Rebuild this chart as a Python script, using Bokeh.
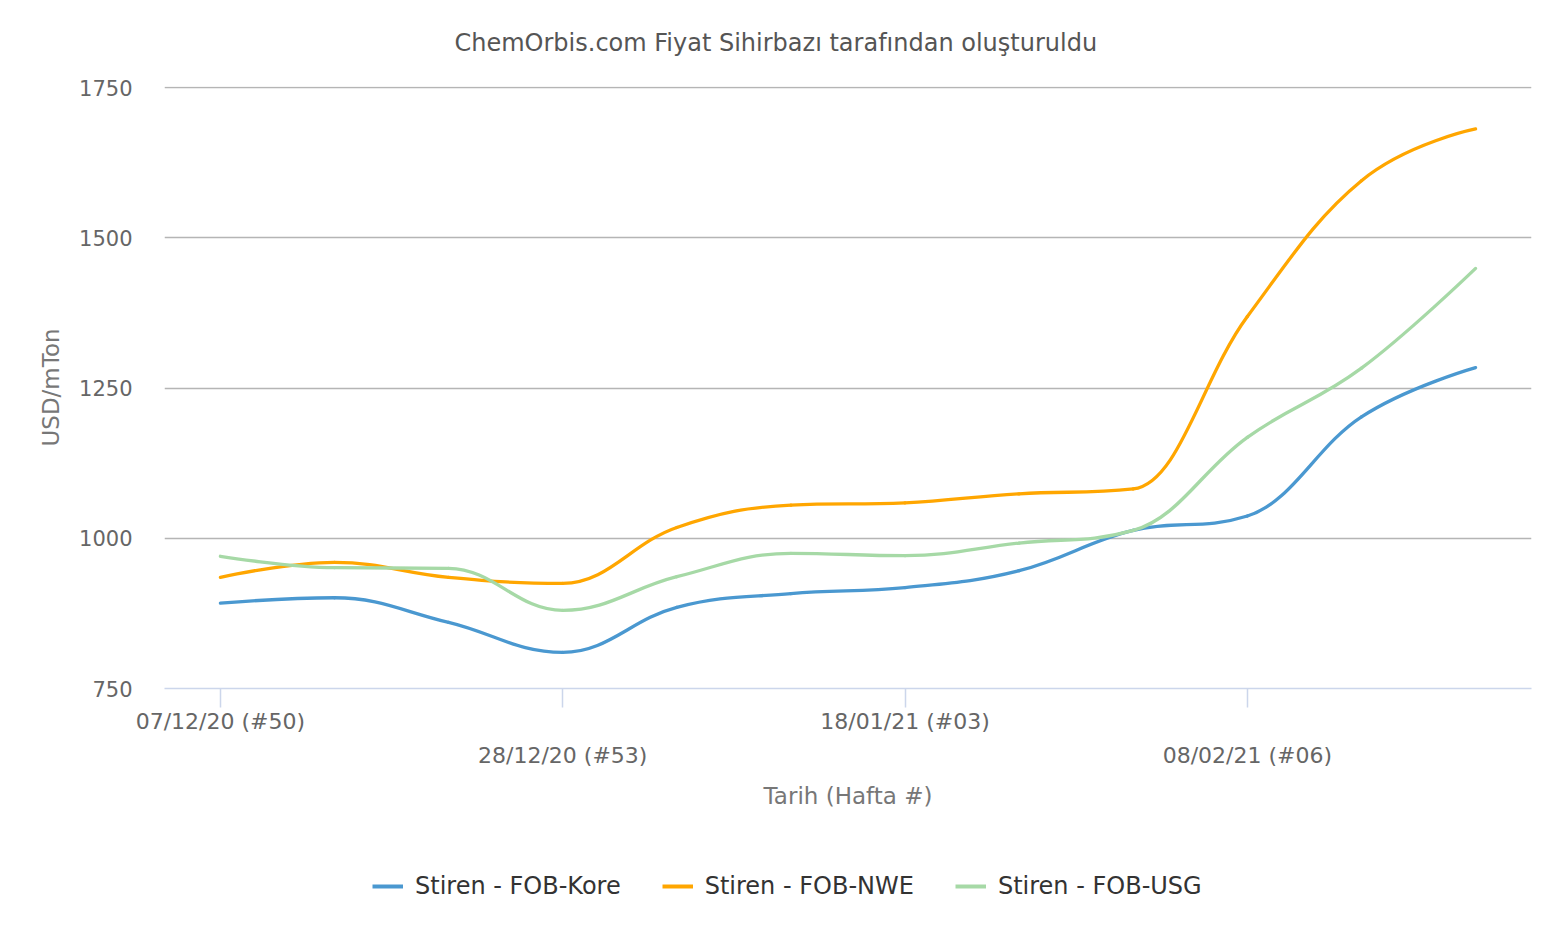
from bokeh.plotting import figure
from bokeh.layouts import column
from bokeh.models import (Range1d, FixedTicker, LinearAxis, Legend, LegendItem,
                          ColumnDataSource)
from bokeh.embed import file_html
from bokeh.resources import INLINE

# ---- data -------------------------------------------------------------
weeks = list(range(12))  # 07/12/20 (#50) ... 22/02/21 (#08), weekly
tick_positions_row1 = [0, 6]
tick_labels_row1 = ["07/12/20 (#50)", "18/01/21 (#03)"]
tick_positions_row2 = [3, 9]
tick_labels_row2 = ["28/12/20 (#53)", "08/02/21 (#06)"]
y_ticks = [750, 1000, 1250, 1500, 1750]

series_names = ["Stiren - FOB-Kore", "Stiren - FOB-NWE", "Stiren - FOB-USG"]
kore = [892, 901, 860, 810, 885, 908, 918, 946, 1013, 1037, 1202, 1284]
nwe = [935, 960, 935, 925, 1018, 1055, 1059, 1074, 1082, 1369, 1595, 1681]
usg = [970, 951, 950, 880, 936, 975, 971, 992, 1013, 1168, 1283, 1449]
colors = ["#4a98d0", "#ffa600", "#a6d9a6"]

FONT = "DejaVu Sans"


def spline_segments(xs, ys, smoothing=1.5):
    """Highcharts-style spline: cubic Bezier control points for each segment."""
    n = len(xs)
    lc = [(xs[i], ys[i]) for i in range(n)]
    rc = [(xs[i], ys[i]) for i in range(n)]
    d = smoothing + 1
    for i in range(1, n - 1):
        px, py = xs[i], ys[i]
        lx, ly = xs[i - 1], ys[i - 1]
        nx, ny = xs[i + 1], ys[i + 1]
        lcx = (smoothing * px + lx) / d
        lcy = (smoothing * py + ly) / d
        rcx = (smoothing * px + nx) / d
        rcy = (smoothing * py + ny) / d
        if rcx != lcx:
            corr = ((rcy - lcy) * (rcx - px)) / (rcx - lcx) + py - rcy
            lcy += corr
            rcy += corr
            if lcy > ly and lcy > py:
                lcy = max(ly, py)
                rcy = 2 * py - lcy
            elif lcy < ly and lcy < py:
                lcy = min(ly, py)
                rcy = 2 * py - lcy
            if rcy > ny and rcy > py:
                rcy = max(ny, py)
                lcy = 2 * py - rcy
            elif rcy < ny and rcy < py:
                rcy = min(ny, py)
                lcy = 2 * py - rcy
        lc[i] = (lcx, lcy)
        rc[i] = (rcx, rcy)
    data = dict(x0=[], y0=[], x1=[], y1=[], cx0=[], cy0=[], cx1=[], cy1=[])
    for i in range(1, n):
        data["x0"].append(xs[i - 1]); data["y0"].append(ys[i - 1])
        data["x1"].append(xs[i]); data["y1"].append(ys[i])
        data["cx0"].append(rc[i - 1][0]); data["cy0"].append(rc[i - 1][1])
        data["cx1"].append(lc[i][0]); data["cy1"].append(lc[i][1])
    return data


p = figure(width=1552, height=840, output_backend="svg", toolbar_location=None,
           x_range=Range1d(-0.49, 11.49), y_range=Range1d(750, 1751.7),
           min_border_left=164, min_border_right=21, min_border_top=86,
           min_border_bottom=152, x_axis_type=None)
p.outline_line_color = None
p.background_fill_color = "white"
p.border_fill_color = "white"

# title
p.title.text = "ChemOrbis.com Fiyat Sihirbazı tarafından oluşturuldu"
p.title.text_font = FONT
p.title.text_font_size = "24px"
p.title.text_font_style = "normal"
p.title.text_color = "#555555"
p.title.align = "left"
p.title.vertical_align = "top"
p.title.offset = 290
p.title.standoff = 56

# y axis
yax = p.yaxis[0]
yax.ticker = FixedTicker(ticks=y_ticks)
yax.axis_line_color = None
yax.major_tick_line_color = None
yax.minor_tick_line_color = None
yax.major_label_text_font = FONT
yax.major_label_text_font_size = "21px"
yax.major_label_text_color = "#666666"
yax.major_label_standoff = 26
yax.axis_label = "USD/mTon"
yax.axis_label_text_font = FONT
yax.axis_label_text_font_size = "23px"
yax.axis_label_text_font_style = "normal"
yax.axis_label_text_color = "#777777"
yax.axis_label_standoff = 12

p.ygrid.ticker = FixedTicker(ticks=y_ticks[1:])
p.ygrid.grid_line_color = "#b5b5b5"
p.ygrid.grid_line_width = 1.5
p.xgrid.visible = False

# x axes (two rows of labels)
all_ticks = sorted(tick_positions_row1 + tick_positions_row2)
overrides1 = {t: "" for t in all_ticks}
overrides1.update(dict(zip(tick_positions_row1, tick_labels_row1)))
ax1 = LinearAxis(ticker=FixedTicker(ticks=all_ticks),
                 major_label_overrides=overrides1)
ax1.axis_line_color = "#ccd6eb"
ax1.axis_line_width = 1.5
ax1.major_tick_line_color = "#ccd6eb"
ax1.major_tick_line_width = 1.5
ax1.major_tick_in = 0
ax1.major_tick_out = 19
ax1.minor_tick_line_color = None
ax1.major_label_text_font = FONT
ax1.major_label_text_font_size = "22px"
ax1.major_label_text_color = "#666666"
ax1.major_label_standoff = 1
p.add_layout(ax1, "below")

ax2 = LinearAxis(ticker=FixedTicker(ticks=tick_positions_row2),
                 major_label_overrides=dict(zip(tick_positions_row2, tick_labels_row2)))
ax2.axis_line_color = None
ax2.major_tick_line_color = None
ax2.minor_tick_line_color = None
ax2.major_tick_in = 0
ax2.major_tick_out = 0
ax2.major_label_text_font = FONT
ax2.major_label_text_font_size = "22px"
ax2.major_label_text_color = "#666666"
ax2.major_label_standoff = 6
ax2.axis_label = "Tarih (Hafta #)"
ax2.axis_label_text_font = FONT
ax2.axis_label_text_font_size = "23px"
ax2.axis_label_text_font_style = "normal"
ax2.axis_label_text_color = "#777777"
ax2.axis_label_standoff = 12
p.add_layout(ax2, "below")

# series
sources = []
for name, vals, col in zip(series_names, [kore, nwe, usg], colors):
    src = ColumnDataSource(spline_segments(weeks, vals))
    sources.append(src)
    p.bezier(x0="x0", y0="y0", x1="x1", y1="y1", cx0="cx0", cy0="cy0",
             cx1="cx1", cy1="cy1", source=src, line_color=col,
             line_width=3.3, line_cap="round")

# legend strip below the chart
lg = figure(width=1552, height=90, output_backend="svg", toolbar_location=None,
            x_range=Range1d(0, 1), y_range=Range1d(0, 1), min_border=0,
            x_axis_location=None, y_axis_location=None)
lg.outline_line_color = None
lg.grid.visible = False
lg.background_fill_color = "white"
lg.border_fill_color = "white"
items = []
for name, src, col in zip(series_names, sources, colors):
    r = lg.bezier(x0="x0", y0="y0", x1="x1", y1="y1", cx0="cx0", cy0="cy0",
                  cx1="cx1", cy1="cy1", source=src, line_color=col, line_width=4)
    items.append(LegendItem(label=name, renderers=[r]))

legend = Legend(items=items, orientation="horizontal", location=(208, 30),
                label_text_font=FONT, label_text_font_size="24px",
                label_text_color="#333333", glyph_width=31, glyph_height=20,
                label_standoff=12, spacing=41, padding=0, margin=0,
                border_line_alpha=0, background_fill_alpha=0)
lg.add_layout(legend, "center")

layout = column(p, lg, spacing=0)
open("out.html", "w").write(file_html(layout, INLINE))
